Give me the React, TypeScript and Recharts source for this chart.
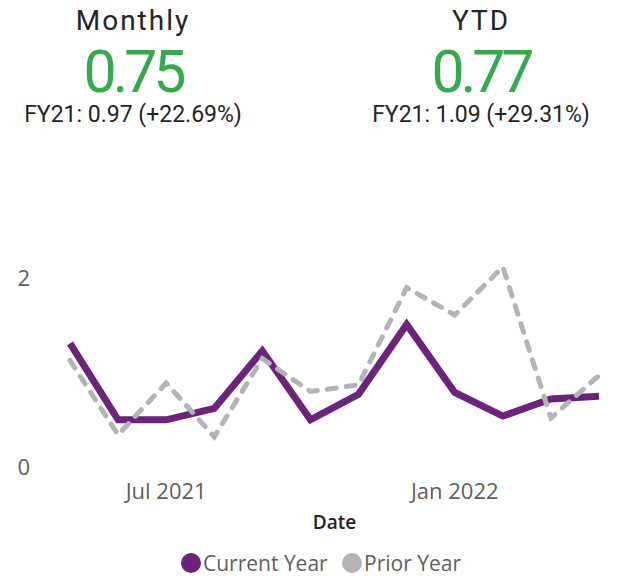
import React from 'react';
import { LineChart, Line, XAxis, YAxis, Legend, Label } from 'recharts';

const months = [
  'May 2021', 'Jun 2021', 'Jul 2021', 'Aug 2021', 'Sep 2021', 'Oct 2021',
  'Nov 2021', 'Dec 2021', 'Jan 2022', 'Feb 2022', 'Mar 2022', 'Apr 2022',
];
const currentYear = [1.31, 0.5, 0.5, 0.62, 1.23, 0.5, 0.77, 1.51, 0.79, 0.54, 0.72, 0.75];
const priorYear = [1.13, 0.34, 0.89, 0.32, 1.15, 0.8, 0.87, 1.9, 1.61, 2.12, 0.52, 0.97];
const xTicks = ['Jul 2021', 'Jan 2022'];
const yTicks = [0, 2];

const kpis = [
  { title: 'Monthly', value: '0.75', compare: 'FY21: 0.97 (+22.69%)', center: 133 },
  { title: 'YTD', value: '0.77', compare: 'FY21: 1.09 (+29.31%)', center: 481 },
];

const PURPLE = '#6B2479';
const GREY = '#B3B3B8';
const GREEN = '#37A84B';
const TEXT = '#605E5C';
const DARK = '#252423';
const uiFont = '"Open Sans", "Noto Sans", sans-serif';
const dinFont = 'Roboto, "DejaVu Sans", sans-serif';

const data = months.map((m, i) => ({ month: m, current: currentYear[i], prior: priorYear[i] }));

const LegendBox = () => (
  <div style={{ position: 'relative', height: 40, fontFamily: uiFont, fontSize: 21, color: TEXT }}>
    {[
      { name: 'Current Year', color: PURPLE, left: 181 },
      { name: 'Prior Year', color: GREY, left: 342 },
    ].map((item) => (
      <div key={item.name} style={{ position: 'absolute', left: item.left, top: 9, display: 'flex', alignItems: 'center', whiteSpace: 'nowrap' }}>
        <span style={{ width: 20, height: 20, borderRadius: 10, background: item.color, marginRight: 2, display: 'inline-block' }} />
        <span style={{ lineHeight: '20px' }}>{item.name}</span>
      </div>
    ))}
  </div>
);

export default function App() {
  return (
    <div style={{ position: 'absolute', left: 0, top: 0, width: 632, height: 584, background: '#fff', overflow: 'hidden' }}>
      {kpis.map((k) => (
        <div key={k.title} style={{ position: 'absolute', left: k.center - 150, width: 300, top: 0, textAlign: 'center', fontFamily: dinFont }}>
          <div style={{ position: 'absolute', top: 1, width: 300, fontSize: 28, lineHeight: '40px', letterSpacing: 2, color: DARK }}>{k.title}</div>
          <div style={{ position: 'absolute', top: 37, width: 300, fontSize: 59, lineHeight: '70px', letterSpacing: -4, color: GREEN }}>{k.value}</div>
          <div style={{ position: 'absolute', top: 100, width: 300, fontSize: 23, lineHeight: '30px', color: DARK }}>{k.compare}</div>
        </div>
      ))}
      <div style={{ position: 'absolute', left: 0, top: 0 }}>
        <LineChart width={632} height={584} data={data} margin={{ top: 231, right: 33, left: 0, bottom: 0 }}>
          <XAxis
            dataKey="month"
            ticks={xTicks}
            axisLine={false}
            tickLine={false}
            tickSize={0}
            tickMargin={16}
            height={77}
            tick={{ fill: TEXT, fontSize: 22, fontFamily: uiFont }}
          >
            <Label value="Date" position="insideBottom" offset={15} fill={DARK} fontSize={19} fontWeight={600} fontFamily={uiFont} />
          </XAxis>
          <YAxis
            domain={[0, 2.5]}
            ticks={yTicks}
            axisLine={false}
            tickLine={false}
            tickSize={0}
            tickMargin={40}
            width={70}
            tick={{ fill: TEXT, fontSize: 22, fontFamily: uiFont }}
          />
          <Legend verticalAlign="bottom" content={() => <LegendBox />} wrapperStyle={{ left: 0, width: 632 }} />
          <Line
            type="linear"
            dataKey="current"
            name="Current Year"
            stroke={PURPLE}
            strokeWidth={7}
            dot={false}
            activeDot={false}
            strokeLinejoin="miter"
            isAnimationActive={false}
          />
          <Line
            type="linear"
            dataKey="prior"
            name="Prior Year"
            stroke={GREY}
            strokeWidth={5}
            strokeDasharray="9 10"
            strokeLinecap="round"
            dot={false}
            activeDot={false}
            isAnimationActive={false}
          />
        </LineChart>
      </div>
    </div>
  );
}
